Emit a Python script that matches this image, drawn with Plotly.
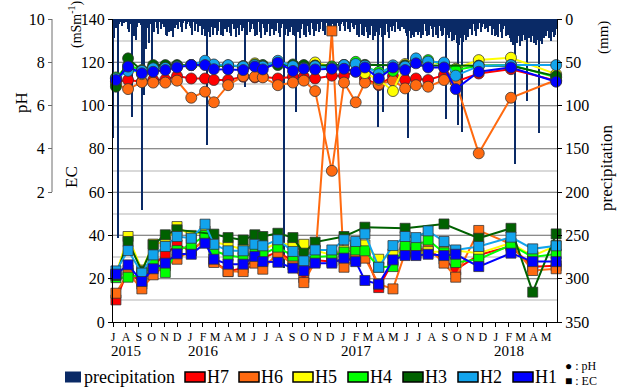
import plotly.graph_objects as go
import pandas as pd

# ---- sampling dates of the wells ----
sample_dates = [
    "2015-07-08", "2015-08-06", "2015-09-08", "2015-10-05", "2015-11-03", "2015-12-01",
    "2016-01-04", "2016-02-06", "2016-02-27", "2016-04-01", "2016-05-07", "2016-06-04",
    "2016-06-23", "2016-07-29", "2016-09-03", "2016-09-29", "2016-10-26", "2016-12-05",
    "2017-01-03", "2017-01-31", "2017-02-22", "2017-03-27", "2017-04-30", "2017-05-29",
    "2017-06-24", "2017-07-23", "2017-08-30", "2017-09-27", "2017-11-21", "2018-02-06",
    "2018-03-30", "2018-05-25",
]

# ---- pH ----
ph_h7 = [7.10, 7.18, 7.10, 7.18, 7.20, 7.36, 7.25, 7.25, 7.18, 7.18, 7.33, 7.30, 7.33, 7.25, 7.33, 7.33,
         7.25, 7.38, 7.38, 7.57, 7.25, 6.94, 7.36, 7.18, 7.25, 7.18, 7.41, 7.10, 7.48, 7.68, None, 7.15]
ph_h6 = [7.00, 6.76, 7.08, 7.06, 7.06, 7.15, 6.36, 6.64, 6.15, 6.94, 7.36, 7.33, 7.30, 6.94, 7.06, 7.15,
         6.67, 2.98, 7.06, 6.15, 7.06, 6.98, 7.15, 6.79, 6.94, 6.87, 7.18, 7.08, 3.79, 6.36, None, 7.18]
ph_h5 = [7.25, 7.70, 7.45, 7.75, 7.82, 7.82, 7.87, 7.95, 7.85, 7.85, 7.82, 7.95, 7.85, 7.95, 7.85, 7.85,
         7.99, 7.80, 7.84, 7.95, 7.50, 7.20, 6.67, 7.92, 8.05, 8.00, 7.95, 7.70, 8.10, 8.21, None, 7.45]
ph_h4 = [7.30, 7.85, 7.64, 7.78, 7.80, 7.84, 7.87, 7.90, 7.86, 7.84, 7.82, 7.90, 7.87, 7.92, 7.84, 7.82,
         7.84, 7.80, 7.87, 8.02, 7.80, 7.55, 7.60, 7.85, 8.05, 8.10, 7.90, 7.64, 7.84, 7.87, None, 7.30]
ph_h3 = [6.87, 8.18, 7.62, 7.87, 7.87, 7.87, None, None, 7.85, 7.84, 7.80, 7.84, 7.85, 7.87, 7.90, 7.87,
         7.85, None, 7.87, None, 7.88, None, None, 7.85, None, None, 7.84, None, 7.84, 7.84, None, 7.36]
ph_h2 = [7.25, 7.60, 7.60, 7.72, 7.74, 7.80, 7.87, 8.07, 7.90, 7.87, 7.80, 7.87, 7.80, 8.07, 7.82, 7.74,
         7.82, 7.74, 7.87, 7.92, 7.84, 7.45, 7.86, 7.80, 8.18, 8.03, 7.99, 7.38, 7.82, 7.87, None, 7.87]
ph_h1 = [7.18, 7.80, 7.49, 7.56, 7.64, 7.76, 7.87, 7.87, 7.68, 7.67, 7.64, 7.80, 7.67, 7.98, 7.60, 7.70,
         7.67, 7.70, 7.70, 7.56, 7.76, 7.25, 7.76, 7.64, 7.95, 7.76, 7.76, 6.76, 7.56, 7.76, None, 7.10]

# ---- EC (mS/m) ----
ec_h7 = [10.2, 24.0, 17.5, 26.0, 31.3, 35.6, 33.0, 38.0, 28.0, 23.3, 25.0, 29.0, 29.5, 32.5, 28.0, 20.5,
         28.5, 28.0, 28.5, 30.0, 31.5, 15.9, 28.0, 32.5, 34.0, 33.0, 29.0, 24.1, 31.0, 35.0, 25.5, 26.0]
ec_h6 = [13.3, 22.5, 15.3, 21.8, 26.0, 29.0, 33.0, 38.0, 27.5, 23.3, 23.3, 27.2, 24.4, 32.0, 26.5, 18.2,
         28.0, 134.5, 25.3, 29.0, 29.5, 17.5, 15.3, 32.0, 33.0, 34.0, 27.2, 20.7, 42.3, 36.0, 23.8, 24.6]
ec_h5 = [22.0, 39.5, 24.0, 36.0, 37.0, 44.1, 40.0, 42.0, 37.0, 35.5, 33.5, 36.5, 33.5, 36.5, 35.6, 35.9,
         33.0, 31.0, 33.0, 35.0, 35.6, 29.0, 31.5, 34.0, 31.5, 32.5, 32.5, 33.0, 31.8, 36.5, 30.5, 35.3]
ec_h4 = [20.5, 20.7, 21.8, 27.0, 22.9, 33.0, 35.6, 40.0, 32.9, 30.7, 29.8, 32.5, 31.3, 34.6, 30.5, 26.5,
         30.0, 30.5, 32.3, 33.3, 32.9, 25.3, 25.6, 35.2, 35.2, 37.9, 32.0, 27.5, 29.0, 35.6, 30.0, 31.4]
ec_h3 = [21.5, 37.2, 23.5, 35.6, 40.3, 42.6, None, None, 40.6, 39.0, 37.9, 40.3, 39.5, 41.0, 39.0, 31.8,
         36.9, None, 39.5, None, 43.8, None, None, 43.3, None, None, 45.3, None, 38.7, 43.3, 13.8, 40.7]
ec_h2 = [23.6, 33.0, 22.6, 31.0, 34.9, 39.5, 38.7, 45.2, 35.9, 32.9, 32.9, 35.9, 35.2, 38.0, 32.6, 28.2,
         33.3, 33.3, 38.0, 37.2, 40.7, 25.3, 35.3, 39.5, 39.0, 42.1, 37.2, 33.3, 34.9, 39.2, 33.8, 35.2]
ec_h1 = [22.1, 26.4, 18.7, 24.6, 27.2, 31.5, 31.3, 36.4, 29.0, 26.7, 26.7, 30.3, 27.9, 27.6, 24.9, 23.6,
         27.2, 27.2, 29.5, 27.9, 19.2, 17.5, 28.7, 30.7, 30.7, 31.3, 30.7, 31.3, 25.6, 31.8, 27.9, 27.9]

# ---- precipitation (mm), 3-day totals from 2015-07-01 ----
precip_start = "2015-07-01"
precip_step_days = 3
precip_mm = [
    137, 22, 10, 4, 253, 6, 3, 8, 2, 5, 4,               # 2015-07
    3, 12, 15, 6, 113, 5, 20, 24, 9, 3,                  # 2015-08
    5, 7, 221, 15, 88, 35, 10, 4, 28, 6,                 # 2015-09
    59, 8, 15, 4, 10, 17, 3, 12, 6, 3,                   # 2015-10
    9, 18, 20, 6, 15, 14, 5, 21, 10, 4,                  # 2015-11
    7, 12, 3, 9, 15, 5, 2, 11, 6, 4, 8,                  # 2015-12
    10, 18, 4, 14, 6, 3, 15, 8, 5, 19,                   # 2016-01
    12, 20, 6, 146, 15, 21, 9, 4, 18, 10,                # 2016-02
    6, 19, 14, 3, 18, 8, 20, 11, 5, 15,                  # 2016-03
    9, 16, 20, 6, 12, 4, 21, 10, 18, 7,                  # 2016-04
    5, 14, 10, 78, 8, 19, 3, 15, 11, 6,                  # 2016-05
    12, 20, 8, 18, 4, 15, 22, 6, 10, 19,                 # 2016-06
    9, 15, 6, 20, 4, 11, 18, 8, 14, 5, 16,               # 2016-07
    21, 10, 6, 288, 19, 12, 20, 8, 15, 9,                # 2016-08
    18, 11, 20, 107, 15, 9, 22, 12, 6, 19,               # 2016-09
    10, 21, 8, 15, 19, 5, 12, 20, 9, 14,                 # 2016-10
    6, 15, 11, 4, 14, 8, 18, 5, 10, 12,                  # 2016-11
    4, 9, 6, 12, 3, 10, 5, 8, 14, 6, 3,                  # 2016-12
    8, 14, 4, 11, 6, 15, 5, 9, 12, 7,                    # 2017-01
    19, 10, 21, 6, 18, 12, 20, 9, 15,                    # 2017-02
    22, 14, 19, 8, 24, 11, 20, 15, 125, 18, 10,          # 2017-03
    21, 107, 12, 19, 6, 15, 22, 9, 14, 5,                # 2017-04
    8, 15, 4, 11, 6, 14, 9, 5, 12, 16,                   # 2017-05
    20, 137, 14, 22, 18, 9, 21, 15, 12, 19,              # 2017-06
    15, 22, 10, 19, 6, 14, 20, 11, 18, 8,                # 2017-07
    12, 21, 9, 19, 15, 22, 8, 14, 20, 18, 10,            # 2017-08
    115, 19, 12, 22, 15, 25, 21, 24, 18, 28,             # 2017-09
    122, 30, 22, 130, 26, 19, 24, 15, 21, 12,            # 2017-10
    10, 18, 6, 14, 20, 8, 11, 5, 15, 9,                  # 2017-11
    6, 12, 4, 10, 15, 8, 5, 18, 11, 20,                  # 2017-12
    19, 10, 21, 6, 15, 22, 12, 8, 20, 14, 18,            # 2018-01
    22, 26, 19, 30, 168, 24, 28, 20, 31,                 # 2018-02
    21, 25, 18, 24, 19, 95, 22, 15, 26, 20,              # 2018-03
    28, 21, 30, 24, 132, 25, 19, 29, 22, 18,             # 2018-04
    20, 14, 22, 18, 25, 15, 21, 19, 12,                  # 2018-05
]

month_letters = ["J", "A", "S", "O", "N", "D",
                 "J", "F", "M", "A", "M", "J", "J", "A", "S", "O", "N", "D",
                 "J", "F", "M", "A", "M", "J", "J", "A", "S", "O", "N", "D",
                 "J", "F", "M", "A", "M"]
year_labels = ["2015", "2016", "2017", "2018"]
year_starts = ["2015-07-01", "2016-01-01", "2017-01-01", "2018-01-01"]

series_names = ["H7", "H6", "H5", "H4", "H3", "H2", "H1"]
series_colors = ["#ff0000", "#ff6a10", "#ffff00", "#00ff00", "#006100", "#12a4ec", "#0000ff"]
ph_values = [ph_h7, ph_h6, ph_h5, ph_h4, ph_h3, ph_h2, ph_h1]
ec_values = [ec_h7, ec_h6, ec_h5, ec_h4, ec_h3, ec_h2, ec_h1]

# ---- geometry (pixels) ----
W, H = 619, 389
L, R, T, B = 52, 62, 19, 67          # plot area: x 52..557, y 19..322
PW, PH = W - L - R, H - T - B
X_LEFT = 113                          # left edge of the data area (EC axis)

def px(x):
    return (x - L) / PW

def py(y):
    return (H - B - y) / PH

SERIF = "Liberation Serif"
NAVY = "#0a2a66"

fig = go.Figure()

precip_dates = pd.date_range(precip_start, periods=len(precip_mm), freq=f"{precip_step_days}D")
fig.add_trace(go.Bar(
    x=precip_dates, y=precip_mm, yaxis="y",
    marker=dict(color=NAVY, line=dict(width=0)),
    width=precip_step_days * 86400000 * 0.8, showlegend=False,
))

for name, color, ec in zip(series_names, series_colors, ec_values):
    fig.add_trace(go.Scatter(
        x=sample_dates, y=ec, yaxis="y2", mode="lines+markers", connectgaps=True,
        line=dict(color=color, width=2),
        marker=dict(symbol="square", size=10, color=color, line=dict(color="rgba(50,50,50,0.75)", width=1)),
        cliponaxis=False, showlegend=False, name=name,
    ))

for name, color, ph in zip(series_names, series_colors, ph_values):
    fig.add_trace(go.Scatter(
        x=sample_dates, y=ph, yaxis="y3", mode="lines+markers", connectgaps=True,
        line=dict(color=color, width=2),
        marker=dict(symbol="circle", size=11, color=color, line=dict(color="rgba(50,50,50,0.75)", width=1)),
        cliponaxis=False, showlegend=False, name=name,
    ))

month_ticks = pd.date_range("2015-07-01", periods=len(month_letters), freq="MS")

# pH 2..10 occupies the upper 173 px of the plot height
ph_top = 10.0
ph_bottom = 2.0 - (PH - 173) / 21.64

fig.update_layout(
    width=W, height=H, margin=dict(l=L, r=R, t=T, b=B),
    paper_bgcolor="white", plot_bgcolor="white",
    bargap=0, showlegend=False,
    font=dict(family=SERIF, color="black"),
    xaxis=dict(
        type="date", domain=[px(X_LEFT), 1],
        range=["2015-07-01", "2018-05-27"],
        tickvals=month_ticks, ticktext=month_letters,
        ticks="outside", ticklen=4, tickcolor="black",
        tickfont=dict(size=12, family=SERIF),
        showline=True, linecolor="black", linewidth=1,
        showgrid=False, zeroline=False,
    ),
    yaxis=dict(
        side="right", anchor="x", range=[350, 0],
        tickvals=list(range(0, 351, 50)),
        ticks="outside", ticklen=4, tickcolor="black",
        tickfont=dict(size=16, family=SERIF),
        showline=True, linecolor="black", linewidth=1,
        showgrid=False, zeroline=False,
    ),
    yaxis2=dict(
        overlaying="y", side="left", anchor="x", range=[0, 140],
        tickvals=list(range(0, 141, 20)),
        ticks="outside", ticklen=4, tickcolor="black",
        tickfont=dict(size=16, family=SERIF),
        showline=True, linecolor="black", linewidth=1,
        showgrid=True, gridcolor="#8c8c8c", gridwidth=1,
        minor=dict(dtick=10, showgrid=True, gridcolor="#d9d9d9", gridwidth=1.5),
        zeroline=False,
    ),
    yaxis3=dict(
        overlaying="y", side="left", anchor="free", position=0,
        range=[ph_bottom, ph_top], tickvals=[2, 4, 6, 8, 10],
        ticks="outside", ticklen=4, tickcolor="#6e6e6e",
        tickfont=dict(size=16, family=SERIF),
        showline=False, showgrid=False, zeroline=False,
    ),
)

# pH axis line only over its labelled span
fig.add_shape(type="line", xref="paper", yref="y3", x0=0, x1=0, y0=2, y1=10,
              line=dict(color="#6e6e6e", width=1))

# axis titles
titles = [
    ("pH", 21, 103, 17),
    ("EC", 71, 177, 17),
    ("(mSm<sup>-1</sup>)", 75, 25, 14),
    ("precipitation", 606, 168, 17),
    ("(mm)", 604, 38, 15),
]
for text, x, y, size in titles:
    fig.add_annotation(text=text, xref="paper", yref="paper", x=px(x), y=py(y),
                       textangle=-90, showarrow=False, xanchor="center", yanchor="middle",
                       font=dict(size=size, family=SERIF, color="black"))

# year labels under the month letters
for label, start in zip(year_labels, year_starts):
    fig.add_annotation(text=label, xref="x", yref="paper", x=start, y=py(351),
                       xanchor="left", yanchor="middle", xshift=-4, showarrow=False,
                       font=dict(size=15, family=SERIF, color="black"))

# legend row
legend_y = 377
fig.add_shape(type="rect", xref="paper", yref="paper",
              x0=px(65), x1=px(81), y0=py(legend_y - 5.5), y1=py(legend_y + 5.5),
              fillcolor=NAVY, line=dict(width=0))
fig.add_annotation(text="precipitation", xref="paper", yref="paper", x=px(82), y=py(legend_y),
                   xanchor="left", yanchor="middle", showarrow=False,
                   font=dict(size=18, family=SERIF, color="black"))
legend_x = [185, 239, 293, 348, 403, 458, 513]
for name, color, lx in zip(series_names, series_colors, legend_x):
    fig.add_shape(type="rect", xref="paper", yref="paper",
                  x0=px(lx), x1=px(lx + 20), y0=py(legend_y - 5), y1=py(legend_y + 5),
                  fillcolor=color, line=dict(color="black", width=1.5))
    fig.add_annotation(text=name, xref="paper", yref="paper", x=px(lx + 20), y=py(legend_y),
                       xanchor="left", yanchor="middle", showarrow=False,
                       font=dict(size=18, family=SERIF, color="black"))

# marker key
fig.add_annotation(text="\u25cf : pH", xref="paper", yref="paper", x=px(563), y=py(366),
                   xanchor="left", yanchor="middle", showarrow=False,
                   font=dict(size=12, family=SERIF, color="black"))
fig.add_annotation(text="\u25a0 : EC", xref="paper", yref="paper", x=px(563), y=py(381),
                   xanchor="left", yanchor="middle", showarrow=False,
                   font=dict(size=12, family=SERIF, color="black"))

fig.write_html("out.html")
